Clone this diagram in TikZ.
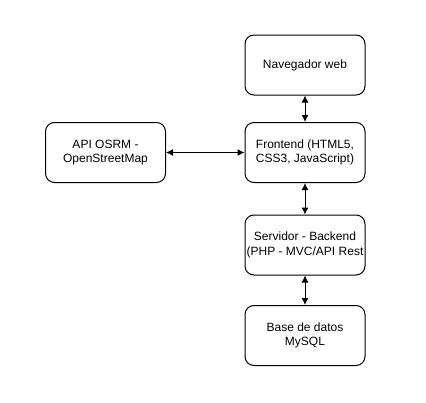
\documentclass[tikz,border=0pt]{standalone}
\usepackage{fontspec}
\setmainfont{Liberation Sans}
\usetikzlibrary{arrows.meta}
\begin{document}
\begin{tikzpicture}[x=1pt,y=-1pt,
  box/.style={draw, line width=1pt, rounded corners=9pt, minimum width=120pt, minimum height=60pt,
    align=center, font=\fontsize{12}{14.5}\selectfont, inner sep=0pt},
  conn/.style={line width=1pt, {Latex[length=7pt,width=7pt]}-{Latex[length=7pt,width=7pt]}}]
\useasboundingbox (0,0) rectangle (426,402);
\node[box] (nav) at (305,65) {Navegador web};
\node[box] (front) at (305,152.5) {Frontend (HTML5,\\CSS3, JavaScript)};
\node[box] (serv) at (305,245) {Servidor - Backend\\(PHP - MVC/API Rest};
\node[box] (db) at (305,335.5) {Base de datos\\MySQL};
\node[box] (api) at (105.5,152.5) {API OSRM -\\OpenStreetMap};
\draw[conn] (nav) -- (front);
\draw[conn] (front) -- (serv);
\draw[conn] (serv) -- (db);
\draw[conn] (api) -- (front);
\end{tikzpicture}
\end{document}
